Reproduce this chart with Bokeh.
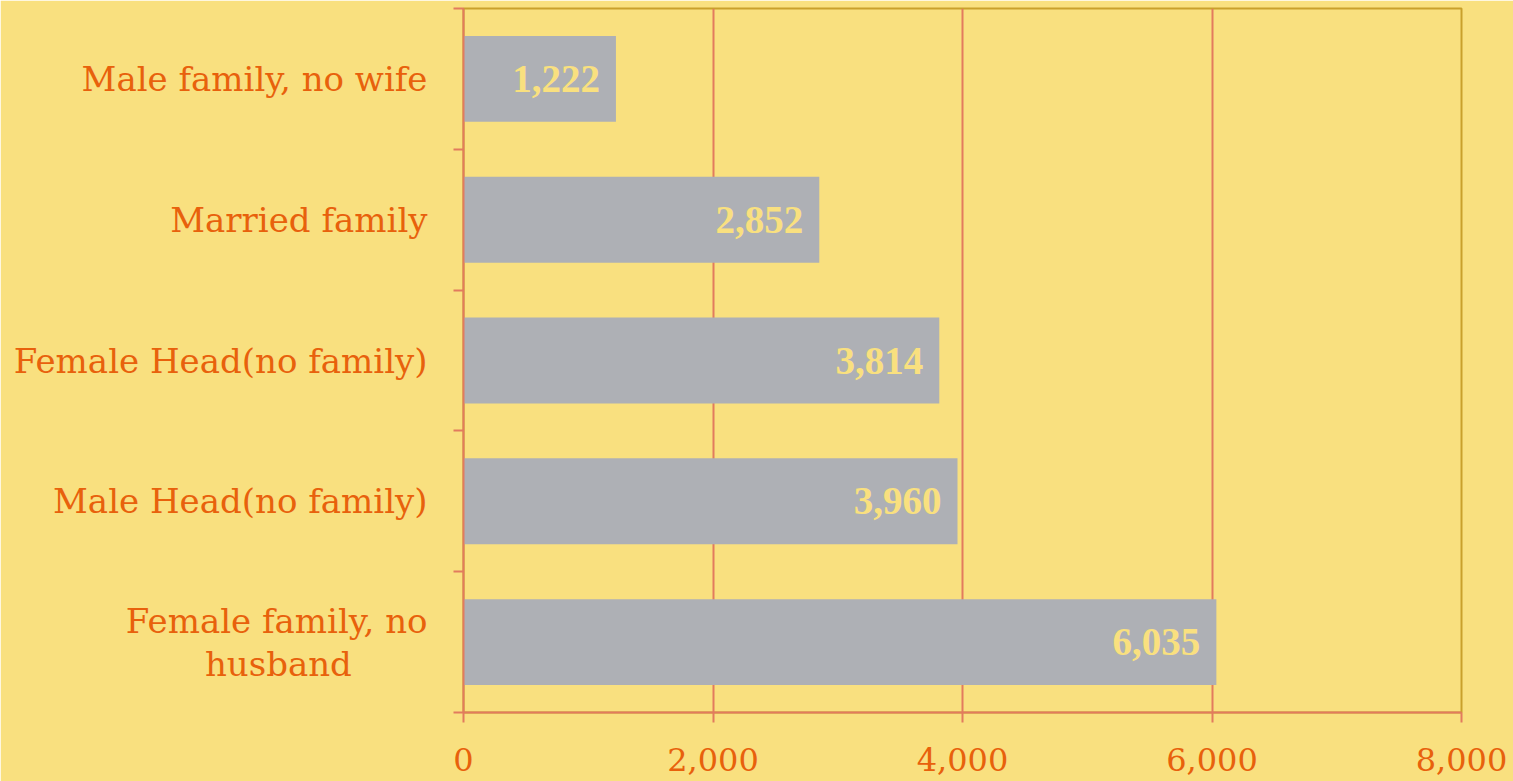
from bokeh.plotting import figure
from bokeh.models import ColumnDataSource, Range1d, FixedTicker, NumeralTickFormatter, LabelSet
from bokeh.embed import file_html
from bokeh.resources import INLINE

categories = ["Male family, no wife", "Married family", "Female Head(no family)",
              "Male Head(no family)", "Female family, no\nhusband"]
values = [1222, 2852, 3814, 3960, 6035]
x_ticks = [0, 2000, 4000, 6000, 8000]

BG = "#F9E07F"
BAR = "#AEB0B5"
ORANGE = "#E8610C"
GRID = "#E27B5E"
FONT = "DejaVu Serif"

n = len(categories)
ypos = [i + 0.5 for i in range(n)]
labels = [f"{v:,}" for v in values]
src = ColumnDataSource(dict(y=ypos, v=values, lab=labels))


def centred(label):
    # pad shorter lines with no-break spaces so they sit centred under the longest
    lines = label.split("\n")
    if len(lines) == 1:
        return label
    w = max(len(l) for l in lines)
    out = []
    for l in lines:
        pad = int(round((w - len(l)) * 0.7))
        out.append(l + "\u00a0" * pad)
    return "\n".join(out)


p = figure(width=1513, height=781, output_backend="svg", toolbar_location=None,
           x_range=Range1d(x_ticks[0], x_ticks[-1]), y_range=Range1d(n, 0),
           min_border_left=463, min_border_right=52, min_border_top=8, min_border_bottom=69)
p.background_fill_color = BG
p.border_fill_color = BG
p.outline_line_color = "#C9A02C"
p.outline_line_width = 2

p.hbar(y="y", right="v", left=0, height=0.61, source=src, color=BAR, line_color=None)

p.add_layout(LabelSet(x="v", y="y", text="lab", source=src, x_offset=-16,
                      text_align="right", text_baseline="middle", text_color=BG,
                      text_font=FONT, text_font_size="39px", text_font_style="bold"))

# x axis
p.xaxis.ticker = FixedTicker(ticks=x_ticks)
p.xaxis.formatter = NumeralTickFormatter(format="0,0")
p.xaxis.axis_line_color = GRID
p.xaxis.axis_line_width = 2
p.xaxis.major_tick_line_color = GRID
p.xaxis.major_tick_line_width = 2
p.xaxis.major_tick_in = 0
p.xaxis.major_tick_out = 10
p.xaxis.minor_tick_line_color = None
p.xaxis.major_label_text_color = ORANGE
p.xaxis.major_label_text_font = FONT
p.xaxis.major_label_text_font_size = "32px"
p.xaxis.major_label_standoff = 25

# y axis
p.yaxis.ticker = FixedTicker(ticks=ypos, minor_ticks=list(range(n + 1)))
p.yaxis.major_label_overrides = {y: centred(c) for y, c in zip(ypos, categories)}
p.yaxis.axis_line_color = GRID
p.yaxis.axis_line_width = 2
p.yaxis.major_tick_line_color = None
p.yaxis.major_tick_out = 0
p.yaxis.major_tick_in = 0
p.yaxis.minor_tick_line_color = GRID
p.yaxis.minor_tick_line_width = 2
p.yaxis.minor_tick_in = 0
p.yaxis.minor_tick_out = 10
p.yaxis.major_label_text_color = ORANGE
p.yaxis.major_label_text_font = FONT
p.yaxis.major_label_text_font_size = "34px"
p.yaxis.major_label_text_line_height = 1.07
p.yaxis.major_label_standoff = 26

p.xgrid.ticker = FixedTicker(ticks=x_ticks)
p.xgrid.grid_line_color = GRID
p.xgrid.grid_line_width = 2
p.ygrid.grid_line_color = None

open("out.html", "w").write(file_html(p, INLINE))
